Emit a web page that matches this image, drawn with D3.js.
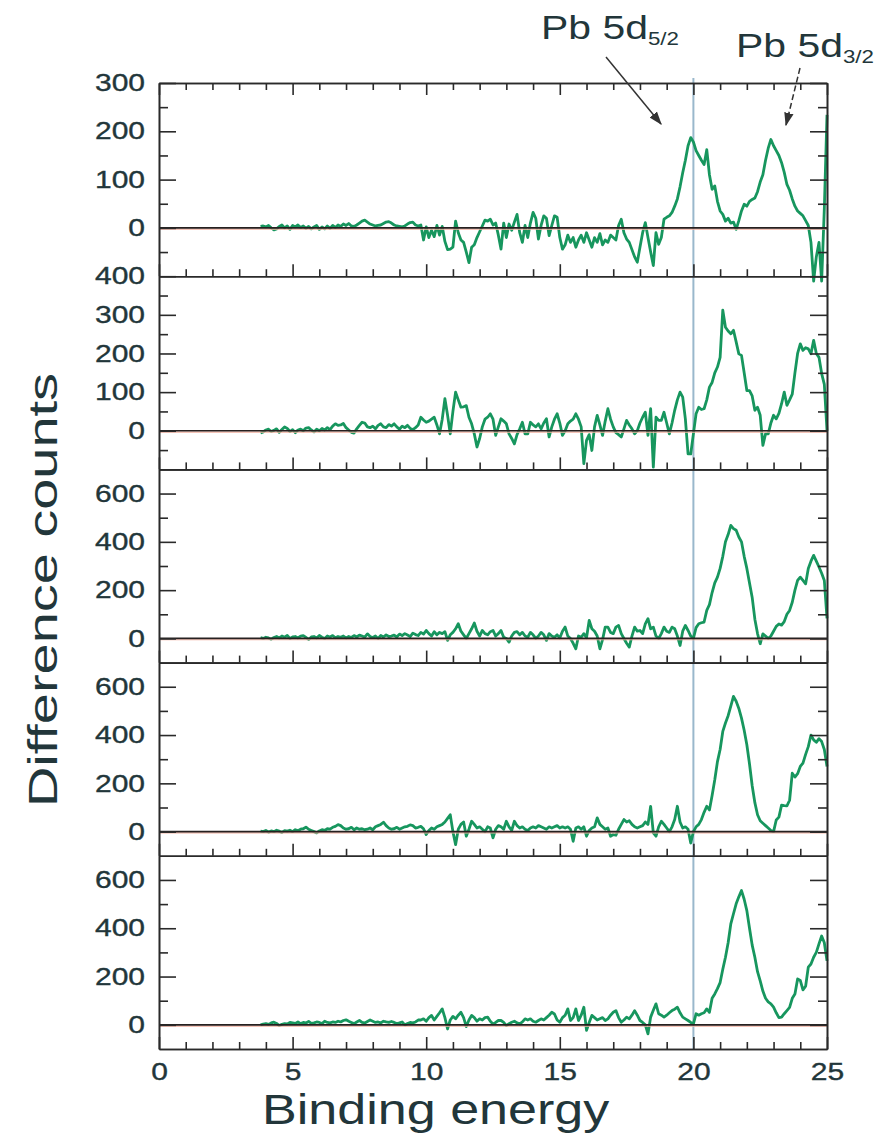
<!DOCTYPE html>
<html>
<head>
<meta charset="utf-8">
<script src="https://cdn.jsdelivr.net/npm/d3@7"></script>
<style>
  body { margin: 0; background: #fff; }
  svg text { font-family: "Liberation Sans", Arial, sans-serif; fill: #22363a; }
  .axis path, .axis line { stroke: #2a2a2a; stroke-width: 1.6; }
  .axis text { stroke: #22363a; stroke-width: 0.35; }
</style>
</head>
<body>
<div id="chart"></div>
<script>
var svgWidth = 884;
var svgHeight = 1138;

var margin = { top: 83, right: 57, bottom: 89, left: 159 };
var width = svgWidth - margin.left - margin.right;
var height = svgHeight - margin.top - margin.bottom;
var panelH = height / 5;

// binding energy grid (eV), 0.1 eV steps from 3.8 to 25.0
var energy = d3.range(38, 251).map(d => d / 10);

// difference counts, one array per panel (top to bottom)
var counts1 = [3, 4, 2, 5, 0, -4, -2, 3, 6, 0,
  4, -3, 5, 2, 6, 1, 4, -1, 3, -2,
  2, 5, -3, 2, -2, 4, -1, 5, 1, 6,
  3, 8, 5, 9, 4, 3, 6, 10, 14, 16,
  12, 8, 6, 4, 5, 6, 9, 12, 13, 10,
  6, 4, 3, 2, 4, 8, 11, 12, 6, 4,
  6, -25, 2, -20, -5, -18, 5, -15, 3, -28,
  -45, -44, -40, 14, -10, -25, -30, -50, -72, -40,
  -35, -20, -8, 4, 16, 14, 18, 6, 10, -15,
  -44, 10, -20, 8, -5, 12, 28, -10, -30, 5,
  -20, 10, 32, 20, -23, 5, 25, 20, -16, 5,
  25, 22, -20, -44, -35, -15, -30, -20, -40, -25,
  -15, -30, -10, -25, -40, -20, -30, -12, -35, -25,
  -30, -15, -20, -25, 5, 18, -10, -23, -30, -45,
  -60, -71, -40, -10, 11, -20, -50, -78, -10, -34,
  -20, 18, 22, 25, 32, 45, 60, 85, 114, 140,
  170, 187, 178, 160, 150, 140, 131, 162, 110, 80,
  87, 55, 35, 28, 14, 20, 10, 12, -3, 15,
  35, 49, 45, 55, 59, 62, 75, 95, 110, 140,
  165, 183, 170, 160, 150, 135, 115, 90, 78, 60,
  45, 35, 30, 25, 15, 5, -30, -110, -60, -30,
  -110, 40, 234];

var counts2 = [-6, -3, 2, 4, -2, 1, 5, -4, 3, 10,
  6, -2, 3, -5, 2, 4, 0, 7, 8, 2,
  -3, 4, 0, 6, 2, 8, 3, 12, 18, 14,
  15, 19, 8, 2, -4, -6, 5, 14, 22, 20,
  10, 8, 12, 5, 14, 18, 10, 8, 16, 12,
  18, 10, 4, 12, 8, 14, 6, 3, 8, 15,
  35, 28, 22, 25, 30, 35, 15, -8, 30, 83,
  40, -8, 50, 100, 80, 61, 62, 65, 35, 18,
  -8, -42, -20, 10, 30, 35, 44, 30, -12, 10,
  31, 25, 18, -8, -20, -34, -10, 5, 22, -8,
  -8, 22, 15, 10, 18, 5, 20, 31, -16, 10,
  30, 44, 20, -12, 0, 18, 25, 30, 44, 30,
  10, -85, -25, -10, -51, 10, 40, 15, -12, 25,
  57, 30, 10, -5, -10, -16, 5, 27, 15, 5,
  -8, 0, 20, 35, 48, -12, 57, -94, 35, 27,
  27, 48, 20, -8, 20, 53, 80, 100, 87, 30,
  -60, -60, -8, 44, 61, 55, 57, 80, 113, 125,
  150, 165, 190, 312, 268, 258, 251, 260, 230, 199,
  195, 150, 104, 104, 90, 53, 61, 40, -38, -8,
  -8, 20, 40, 31, 45, 70, 100, 66, 80, 95,
  150, 200, 225, 208, 215, 212, 199, 234, 200, 190,
  148, 120, 0];

var counts3 = [3, 0, 5, 2, -3, 4, 8, 2, 10, 5,
  12, 0, 6, 8, 2, 10, 12, 4, -4, 6,
  8, 2, 12, 5, 0, 10, 6, 12, 3, 8,
  5, 10, 2, 8, 4, 12, 6, 14, 10, 5,
  19, 8, 4, 10, 0, 12, 6, 15, 8, 10,
  14, 6, 18, 12, 20, 14, 8, 22, 16, 12,
  25, 18, 33, 20, 10, 28, 15, 25, 20, 28,
  -8, 15, 25, 40, 61, 30, 15, 0, 20, 40,
  64, 30, 10, 33, 20, 15, 28, 33, 10, 20,
  33, 5, 0, -15, 10, 25, 28, 15, 25, 10,
  5, 25, 15, 0, 10, 25, 15, -8, 20, 10,
  5, 15, 2, 30, 47, 10, 0, -20, -43, 10,
  5, 20, 3, 75, 40, 30, 10, -43, -5, 47,
  47, 25, 20, 47, 54, 20, 0, -20, -36, 10,
  47, 30, 33, 20, 60, 82, 40, 47, 10, 0,
  20, 47, 30, 25, 47, 40, 10, -29, 30, 54,
  33, 10, 0, 45, 61, 65, 68, 116, 140, 190,
  230, 254, 290, 340, 400, 430, 468, 455, 448, 420,
  400, 340, 290, 230, 170, 80, 20, -22, 19, 10,
  0, 10, 30, 50, 60, 55, 70, 100, 116, 150,
  200, 240, 254, 240, 226, 290, 320, 344, 320, 296,
  270, 240, 83];

var counts4 = [2, 0, 5, -2, 3, 0, 6, 2, -3, 4,
  2, 6, 0, 8, 4, 10, 12, 19, 10, 5,
  0, -5, 3, 8, 5, 12, 10, 18, 22, 29,
  25, 15, 10, 12, 18, 8, 15, 10, 12, 8,
  10, 15, 8, 20, 25, 30, 39, 25, 15, 10,
  12, 18, 10, 15, 20, 22, 28, 25, 15, 18,
  22, 12, -12, 5, 15, 10, 20, 25, 30, 40,
  55, 70, 0, -54, 10, 30, 40, -19, 10, 43,
  30, 15, 20, 10, 0, 20, 15, -26, 10, 25,
  20, 10, 43, 20, 5, 43, 25, 15, 20, 10,
  5, 15, 20, 15, 25, 20, 15, 10, 20, 15,
  20, 25, 15, 20, 15, 20, 10, -40, 15, 20,
  10, 20, -19, 5, 15, 20, 57, 30, 20, 10,
  15, -19, -12, -15, 10, 30, 50, 40, 45, 30,
  20, 15, 20, 25, 40, 30, 105, -5, -19, 20,
  43, 30, 15, 0, 20, 50, 105, 40, 15, 20,
  10, -47, 0, 20, 30, 50, 80, 105, 90, 150,
  215, 290, 340, 415, 450, 480, 520, 560, 540, 510,
  470, 420, 360, 280, 190, 120, 70, 45, 35, 25,
  15, 5, 0, 48, 60, 110, 108, 107, 130, 242,
  226, 240, 270, 284, 320, 352, 400, 380, 370, 385,
  373, 340, 270];

var counts5 = [0, 3, 5, 2, 8, 11, 6, -3, 2, 5,
  4, 10, 8, 6, 12, 5, 10, 8, 14, 6,
  8, 12, 10, 5, 15, 10, 8, 12, 10, 15,
  12, 18, 21, 15, 10, 5, 12, 18, 10, 8,
  14, 20, 15, 10, 12, 8, 15, 12, 10, 14,
  10, 5, 8, 12, 0, 5, 10, 8, 12, 20,
  20, 25, 15, 30, 39, 20, 35, 50, 66, 30,
  -17, 20, 35, 25, 40, 52, 30, -7, 20, 39,
  30, 15, 25, 20, 30, 32, 15, 4, 10, 18,
  18, 10, -3, 5, 11, 15, 8, 4, 12, 25,
  20, 25, 15, 11, 18, 25, 20, 30, 40, 52,
  45, 20, 11, 30, 40, 66, 18, 30, 66, 18,
  40, 73, -23, 10, 39, 30, 20, 25, 30, 18,
  25, 40, 52, 59, 30, 11, 20, 32, 25, 40,
  59, 40, 18, 10, 0, -37, 32, 60, 87, 46,
  40, 32, 40, 50, 59, 65, 73, 50, 32, 25,
  18, 10, 4, 46, 40, 46, 50, 66, 52, 110,
  128, 150, 175, 230, 280, 340, 418, 460, 501, 530,
  556, 520, 473, 400, 330, 280, 220, 182, 140, 110,
  95, 87, 73, 50, 30, 32, 46, 59, 72, 110,
  128, 190, 184, 145, 160, 239, 252, 280, 300, 335,
  368, 340, 265];

var allCounts = [counts1, counts2, counts3, counts4, counts5];

// y axis setup per panel
var yDomains = [[-100, 300], [-100, 400], [-100, 700], [-100, 700], [-100, 700]];
var yLabels = [[0, 100, 200, 300], [0, 100, 200, 300, 400], [0, 200, 400, 600], [0, 200, 400, 600], [0, 200, 400, 600]];
var yMinors = [[-50, 50, 150, 250], [-50, 50, 150, 250, 350], [100, 300, 500], [100, 300, 500], [100, 300, 500]];

var xMajors = [0, 5, 10, 15, 20, 25];
var xMinors = d3.range(1, 25).filter(d => d % 5 !== 0);
var markerEnergy = 20;

var stretch = 1.25;

var svg = d3.select("#chart")
  .append("svg")
  .attr("width", svgWidth)
  .attr("height", svgHeight);

var defs = svg.append("defs");
defs.append("marker")
  .attr("id", "arrow")
  .attr("viewBox", "0 0 10 10")
  .attr("refX", 9).attr("refY", 5)
  .attr("markerWidth", 9).attr("markerHeight", 9)
  .attr("orient", "auto")
  .append("path")
  .attr("d", "M0,1.5 L10,5 L0,8.5 Z")
  .attr("fill", "#333");

var chartGroup = svg.append("g")
  .attr("transform", `translate(${margin.left}, ${margin.top})`);

var xScale = d3.scaleLinear().domain([0, 25]).range([0, width]);

// vertical guide at 20 eV
chartGroup.append("line")
  .attr("x1", xScale(markerEnergy)).attr("x2", xScale(markerEnergy))
  .attr("y1", -5).attr("y2", height)
  .attr("stroke", "#9ab8cc")
  .attr("stroke-width", 2);

allCounts.forEach(function(series, p) {
  var top = p * panelH;
  var bottom = top + panelH;
  var y = d3.scaleLinear().domain(yDomains[p]).range([bottom, top]);

  var g = chartGroup.append("g");

  // curve
  var line = d3.line()
    .x((d, i) => xScale(energy[i]))
    .y(d => y(d));
  g.append("path")
    .datum(series)
    .attr("fill", "none")
    .attr("stroke", "#17965e")
    .attr("stroke-width", 2.8)
    .attr("stroke-linejoin", "round")
    .attr("d", line);

  // zero line
  g.append("line")
    .attr("x1", 0).attr("x2", width)
    .attr("y1", y(0) + 1.3).attr("y2", y(0) + 1.3)
    .attr("stroke", "#f2b0a0").attr("stroke-width", 1.2);
  g.append("line")
    .attr("x1", 0).attr("x2", width)
    .attr("y1", y(0)).attr("y2", y(0))
    .attr("stroke", "#262020").attr("stroke-width", 1.7);

  // left axis, labelled majors
  var left = g.append("g").attr("class", "axis")
    .call(d3.axisLeft(y).tickValues(yLabels[p]).tickSize(-17).tickSizeOuter(0));
  left.selectAll("text")
    .attr("font-size", 24)
    .attr("x", -14 / stretch)
    .attr("transform", `scale(${stretch},1)`);
  g.append("g").attr("class", "axis")
    .call(d3.axisLeft(y).tickValues(yMinors[p]).tickSize(-9).tickSizeOuter(0).tickFormat(""));

  // right axis
  g.append("g").attr("class", "axis")
    .attr("transform", `translate(${width}, 0)`)
    .call(d3.axisRight(y).tickValues(yLabels[p]).tickSize(-17).tickSizeOuter(0).tickFormat(""));
  g.append("g").attr("class", "axis")
    .attr("transform", `translate(${width}, 0)`)
    .call(d3.axisRight(y).tickValues(yMinors[p]).tickSize(-9).tickSizeOuter(0).tickFormat(""));

  // bottom axis of each panel, inward ticks
  var bx = g.append("g").attr("class", "axis")
    .attr("transform", `translate(0, ${bottom})`)
    .call(d3.axisBottom(xScale).tickValues(xMajors).tickSize(-12).tickSizeOuter(0).tickPadding(14)
      .tickFormat(p === 4 ? d3.format("d") : ""));
  bx.selectAll("text")
    .attr("font-size", 24)
    .attr("transform", `scale(${stretch},1)`);
  g.append("g").attr("class", "axis")
    .attr("transform", `translate(0, ${bottom})`)
    .call(d3.axisBottom(xScale).tickValues(xMinors).tickSize(-7).tickSizeOuter(0).tickFormat(""));

  if (p === 0) {
    g.append("g").attr("class", "axis")
      .call(d3.axisTop(xScale).tickValues(xMajors).tickSize(-12).tickSizeOuter(0).tickFormat(""));
    g.append("g").attr("class", "axis")
      .call(d3.axisTop(xScale).tickValues(xMinors).tickSize(-7).tickSizeOuter(0).tickFormat(""));
  }
});

// axis titles
svg.append("text")
  .attr("transform", `translate(262, 1124) scale(1.24,1)`)
  .attr("font-size", 42)
  .attr("fill", "#1d2b2e")
  .text("Binding energy");

svg.append("text")
  .attr("transform", "translate(57, 590) rotate(-90)")
  .attr("text-anchor", "middle")
  .attr("font-size", 40)
  .attr("textLength", 434)
  .attr("lengthAdjust", "spacingAndGlyphs")
  .attr("fill", "#1d2b2e")
  .text("Difference counts");

// peak annotations
var ann1 = svg.append("text")
  .attr("transform", "translate(541, 39) scale(1.24,1)")
  .attr("font-size", 33)
  .attr("fill", "#1d2b2e");
ann1.append("tspan").text("Pb 5d");
ann1.append("tspan").attr("font-size", 18).attr("dy", 6).text("5/2");

var ann2 = svg.append("text")
  .attr("transform", "translate(736, 57) scale(1.24,1)")
  .attr("font-size", 33)
  .attr("fill", "#1d2b2e");
ann2.append("tspan").text("Pb 5d");
ann2.append("tspan").attr("font-size", 18).attr("dy", 6).text("3/2");

svg.append("line")
  .attr("x1", 606).attr("y1", 57).attr("x2", 661).attr("y2", 124)
  .attr("stroke", "#333").attr("stroke-width", 1.5)
  .attr("marker-end", "url(#arrow)");

svg.append("line")
  .attr("x1", 800).attr("y1", 68).attr("x2", 786).attr("y2", 125)
  .attr("stroke", "#333").attr("stroke-width", 1.5)
  .attr("stroke-dasharray", "6,3")
  .attr("marker-end", "url(#arrow)");
</script>
</body>
</html>
